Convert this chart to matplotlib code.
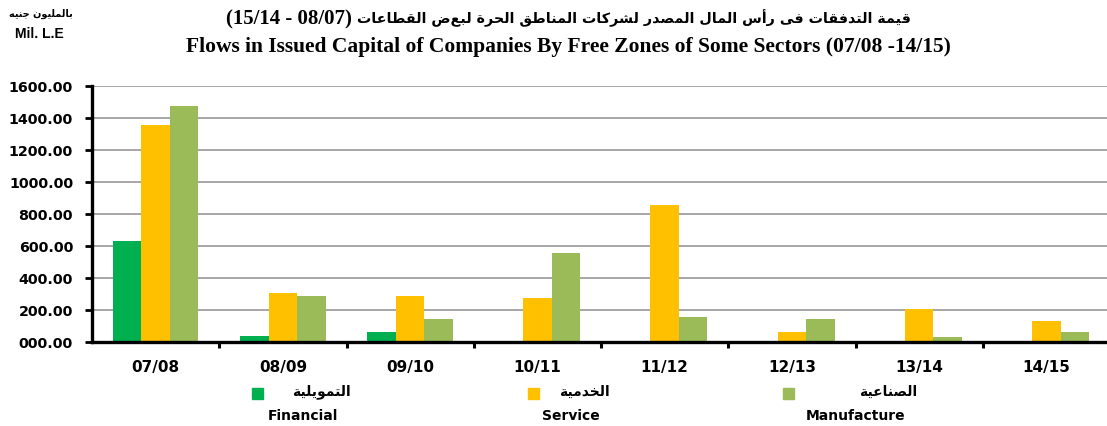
import matplotlib
matplotlib.use('Agg')
import matplotlib.pyplot as plt
import numpy as np
from matplotlib.patches import Rectangle

# %% Data — flows in issued capital (Mil. L.E)
years       = ['07/08', '08/09', '09/10', '10/11', '11/12', '12/13', '13/14', '14/15']
financial   = [634, 36, 65, 0, 0, 0, 0, 0]
service     = [1356, 308, 290, 277, 858, 65, 206, 133]
manufacture = [1475, 287, 144, 558, 154, 146, 29, 63]

sector_en = ['Financial', 'Service', 'Manufacture']
sector_ar = ['التمويلية', 'الخدمية', 'الصناعية']
colors    = ['#00B050', '#FFC000', '#9BBB59']

title_ar     = 'قيمة التدفقات فى رأس المال المصدر لشركات المناطق الحرة لبعض القطاعات'
title_period = '(15/14 - 08/07)'
title_en     = 'Flows in Issued Capital of Companies By Free Zones of Some Sectors (07/08 -14/15)'
unit_ar      = 'بالمليون جنيه'
unit_en      = 'Mil. L.E'

# %% Arabic shaping — presentation forms B, (isolated base codepoint, number of forms)
AR_FORMS = {
    'ا': (0xFE8D, 2), 'أ': (0xFE83, 2), 'ب': (0xFE8F, 4), 'ة': (0xFE93, 2),
    'ت': (0xFE95, 4), 'ج': (0xFE9D, 4), 'ح': (0xFEA1, 4), 'خ': (0xFEA5, 4),
    'د': (0xFEA9, 2), 'ر': (0xFEAD, 2), 'س': (0xFEB1, 4), 'ش': (0xFEB5, 4),
    'ص': (0xFEB9, 4), 'ط': (0xFEC1, 4), 'ع': (0xFEC9, 4), 'ف': (0xFED1, 4),
    'ق': (0xFED5, 4), 'ك': (0xFED9, 4), 'ل': (0xFEDD, 4), 'م': (0xFEE1, 4),
    'ن': (0xFEE5, 4), 'ه': (0xFEE9, 4), 'و': (0xFEED, 2), 'ى': (0xFEEF, 2),
    'ي': (0xFEF1, 4),
}


def shape_ar(text):
    """Join Arabic letters into contextual forms and return them in visual order."""
    out = []
    for i, ch in enumerate(text):
        if ch not in AR_FORMS:
            out.append(ch)
            continue
        base, n = AR_FORMS[ch]
        prev = text[i - 1] if i > 0 else ''
        nxt  = text[i + 1] if i + 1 < len(text) else ''
        joins_prev = prev in AR_FORMS and AR_FORMS[prev][1] == 4
        joins_next = n == 4 and nxt in AR_FORMS
        if joins_prev and joins_next:
            k = 3
        elif joins_prev:
            k = 1
        elif joins_next:
            k = 2
        else:
            k = 0
        out.append(chr(base + k))
    return ''.join(reversed(out))


# %% Figure
W, H = 1107, 426
fig = plt.figure(figsize=(W / 100, H / 100), dpi=100)
ax = fig.add_axes([92 / W, 1 - 342 / H, (1110 - 92) / W, (342 - 86) / H])

x = np.arange(len(years))
bw = 0.224
for off, vals, col in zip([-bw, 0, bw], [financial, service, manufacture], colors):
    ax.bar(x + off, vals, width=bw, color=col, edgecolor='none', zorder=3)

ax.set_xlim(-0.5, len(years) - 0.5)
ax.set_ylim(0, 1600)
ax.set_yticks(np.arange(0, 1601, 200))
ax.set_yticklabels([f'{v:06.2f}' for v in np.arange(0, 1601, 200)],
                   fontsize=10.3, fontweight='bold', family='DejaVu Sans')
ax.set_xticks(x)
ax.set_xticklabels(years, fontsize=11, fontweight='bold', family='DejaVu Sans')
ax.set_xticks(np.arange(0.5, len(years) - 0.5, 1), minor=True)
ax.tick_params(axis='x', which='major', length=0, pad=13)
ax.tick_params(axis='x', which='minor', length=4.5, width=2.2, direction='out')
ax.tick_params(axis='y', length=5, width=2, direction='out', pad=8.6)

ax.grid(axis='y', color='#a0a0a0', linewidth=1.3, zorder=0)
for side in ['top', 'right']:
    ax.spines[side].set_visible(False)
for side in ['left', 'bottom']:
    ax.spines[side].set_linewidth(2.4)
    ax.spines[side].set_zorder(4)

# %% Titles
fig.text(226 / W, 1 - 19 / H, title_period, ha='left', va='center',
         fontsize=15, fontweight='bold', family='Liberation Serif')
fig.text(911 / W, 1 - 18 / H, shape_ar(title_ar), ha='right', va='center',
         fontsize=10.25, fontweight='bold', family='DejaVu Sans')
fig.text(568 / W, 1 - 47 / H, title_en, ha='center', va='center',
         fontsize=15.5, fontweight='bold', family='Liberation Serif')
fig.text(41 / W, 1 - 14 / H, shape_ar(unit_ar), ha='center', va='center',
         fontsize=7, fontweight='bold', family='DejaVu Sans')
fig.text(39 / W, 1 - 34 / H, unit_en, ha='center', va='center',
         fontsize=10, fontweight='bold', family=['Liberation Sans Narrow', 'Liberation Sans'])

# %% Legend: coloured square, Arabic name beside it, English name underneath
sq_x  = [252, 528, 783]
ar_x  = [321, 584, 888]
en_x  = [303, 571, 856]
sq = 11
for i in range(3):
    fig.add_artist(Rectangle((sq_x[i] / W, 1 - (388 + sq) / H), sq / W, sq / H,
                             transform=fig.transFigure, color=colors[i]))
    fig.text(ar_x[i] / W, 1 - 392 / H, shape_ar(sector_ar[i]), ha='center', va='center',
             fontsize=10, fontweight='bold', family='DejaVu Sans')
    fig.text(en_x[i] / W, 1 - 416 / H, sector_en[i], ha='center', va='center',
             fontsize=10, fontweight='bold', family='DejaVu Sans')

fig.savefig('out.png', dpi=100)
